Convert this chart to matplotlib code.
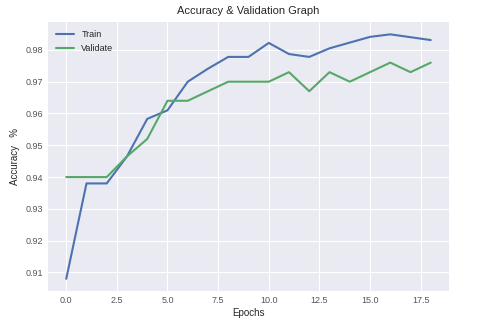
import matplotlib
matplotlib.use("Agg")
import matplotlib.pyplot as plt

epochs = list(range(19))
train = [0.908, 0.938, 0.938, 0.9465, 0.9583, 0.961, 0.970, 0.9741, 0.9778, 0.9778,
         0.9822, 0.9787, 0.9778, 0.9805, 0.9823, 0.9841, 0.9849, 0.984, 0.9831]
validate = [0.940, 0.940, 0.940, 0.9465, 0.952, 0.964, 0.964, 0.967, 0.970, 0.970,
            0.970, 0.973, 0.967, 0.973, 0.970, 0.973, 0.976, 0.973, 0.976]

plt.style.use("seaborn-v0_8-darkgrid")
plt.rcParams['font.family'] = ['Liberation Sans', 'DejaVu Sans']

fig = plt.figure(figsize=(4.97, 3.35), dpi=100)
ax = fig.add_axes([0.0966, 0.1313, 0.8068, 0.8027])
ax.plot(epochs, train, color='#4C72B0', lw=1.5, label='Train')
ax.plot(epochs, validate, color='#55A868', lw=1.5, label='Validate')
ax.set_title('Accuracy & Validation Graph', fontsize=8)
ax.set_xlabel('Epochs', fontsize=7, labelpad=2)
ax.set_ylabel('Accuracy   %', fontsize=7)
ax.tick_params(labelsize=6.5, colors='#555555')
ax.legend(loc='upper left', fontsize=6.5)
fig.savefig('out.png', dpi=100)
